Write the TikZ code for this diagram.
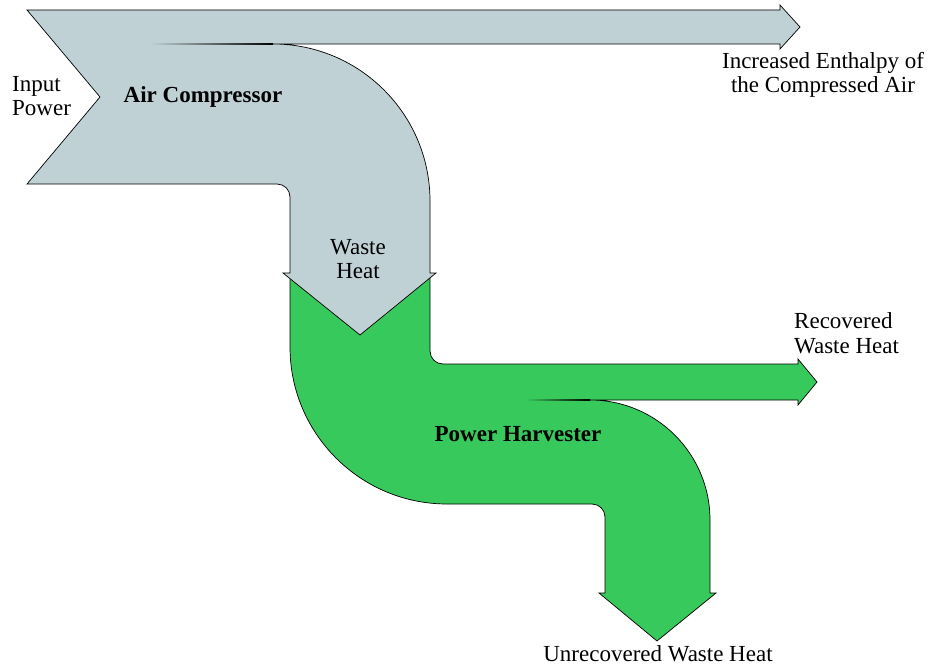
\documentclass[tikz,border=0pt]{standalone}
\usepackage{fontspec}
\setmainfont{Liberation Serif}
\definecolor{compgrey}{RGB}{192,209,214}
\definecolor{harvgreen}{RGB}{56,201,92}
\begin{document}
\begin{tikzpicture}[x=1pt,y=-1pt,
  flow/.style={draw=black,line width=0.7pt,line join=miter},
  lbl/.style={font=\fontsize{23}{24.5}\selectfont,inner sep=0pt,align=center},
  blbl/.style={font=\fontsize{23}{25}\selectfont\bfseries,inner sep=0pt}]
\useasboundingbox (0,0) rectangle (931,666);
% green flow (power harvester)
\path[flow,fill=harvgreen]
  (290,273) -- (290,347)
  .. controls (290,433.7) and (360.3,504) .. (447,504)
  -- (592,504)
  .. controls (599.2,504) and (605,509.8) .. (605,517)
  -- (605,593) -- (599,593) -- (657,641) -- (716,593) -- (710,593)
  -- (710,520)
  .. controls (710,453.7) and (656.3,400) .. (590,400)
  -- (798,400) -- (798,405) -- (817,382) -- (798,359) -- (798,364)
  -- (443,364)
  .. controls (435.8,364) and (430,358.2) .. (430,351)
  -- (430,273) -- cycle;
\shade[left color=harvgreen,right color=black] (525,399.6) rectangle (590,400.4);
% grey flow (air compressor)
\path[flow,fill=compgrey]
  (27,10) -- (780,10) -- (780,5) -- (800,27) -- (780,49) -- (780,44)
  -- (273,44)
  .. controls (359.7,44) and (430,114.3) .. (430,201)
  -- (430,273) -- (436,273) -- (360,335) -- (283,273) -- (290,273)
  -- (290,197)
  .. controls (290,189.8) and (284.2,184) .. (277,184)
  -- (27,184) -- (100,97) -- cycle;
\shade[left color=compgrey,right color=black] (150,43.6) rectangle (273,44.4);
% labels
\node[lbl,anchor=west,align=left] (inp) at (12,96) {Input\\Power};
\node[blbl] (ac) at (203,97) {Air Compressor};
\node[lbl] (enth) at (823,75) {Increased Enthalpy of\\the Compressed Air};
\node[lbl] (wh) at (358,259) {Waste\\Heat};
\node[lbl,anchor=west,align=left] (rec) at (794,333) {Recovered\\Waste Heat};
\node[blbl] (ph) at (518,434) {Power Harvester};
\node[lbl] (unrec) at (658,654) {Unrecovered Waste Heat};
\end{tikzpicture}
\end{document}
